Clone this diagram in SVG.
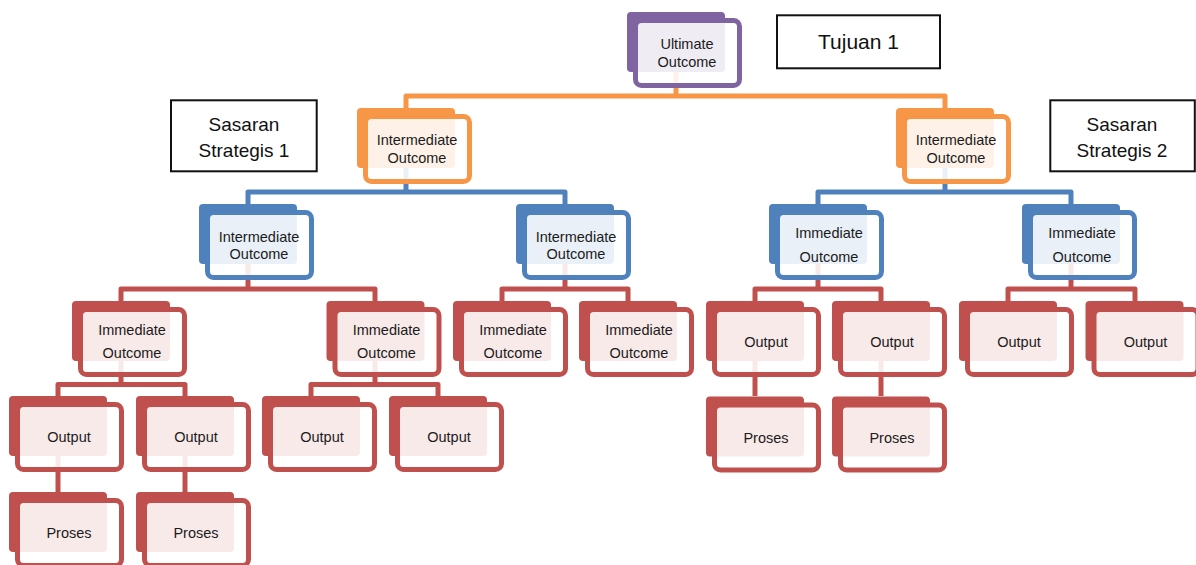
<svg xmlns="http://www.w3.org/2000/svg" width="1196" height="565" viewBox="0 0 1196 565">
<style>
.p{color:#8064A2}
.o{color:#F79646}
.b{color:#4F81BD}
.r{color:#C0504D}
.t{font-family:"Liberation Sans",Arial,sans-serif;font-size:14.5px;fill:#1b1b1b;text-anchor:middle}
.lab{font-family:"Liberation Sans",Arial,sans-serif;fill:#111;text-anchor:middle}
.box{fill:#fff;stroke:#111;stroke-width:2}
.c{fill:none;stroke-width:5;stroke-linejoin:round}
.co{stroke:#F79646}.cb{stroke:#4F81BD}.cr{stroke:#C0504D}
</style>
<defs>
<g id="shape">
<rect x="0" y="0" width="98" height="60" rx="4" fill="currentColor"/>
<rect x="8.5" y="8.5" width="104" height="65" rx="6" fill="#ffffff" fill-opacity="0.88" stroke="currentColor" stroke-width="5"/>
</g>
</defs>
<g id="connectors">
<path class="c co" d="M676,40 V96 M406,108 V96 H945 V108"/>
<path class="c cb" d="M406,136 V192 M248,204 V192 H565 V204"/>
<path class="c cb" d="M945,136 V192 M818,204 V192 H1071 V204"/>
<path class="c cr" d="M248,232 V289 M121,301 V289 H375 V301"/>
<path class="c cr" d="M565,232 V289 M502,301 V289 H628 V301"/>
<path class="c cr" d="M818,232 V289 M755,301 V289 H881 V301"/>
<path class="c cr" d="M1071,232 V289 M1008,301 V289 H1135 V301"/>
<path class="c cr" d="M121,330 V384.5 M58,396 V384.5 H185 V396"/>
<path class="c cr" d="M375,330 V384.5 M311,396 V384.5 H438 V396"/>
<path class="c cr" d="M755,330 V396"/>
<path class="c cr" d="M881,330 V396"/>
<path class="c cr" d="M58,426 V492"/>
<path class="c cr" d="M185,426 V492"/>
</g>
<g id="n-ultimate" class="p" transform="translate(627,12)"><use href="#shape"/><text class="t" x="60" y="36.5">Ultimate</text><text class="t" x="60" y="54.5">Outcome</text></g>
<g id="n-int-1" class="o" transform="translate(357,108)"><use href="#shape"/><text class="t" x="60" y="37">Intermediate</text><text class="t" x="60" y="54.5">Outcome</text></g>
<g id="n-int-2" class="o" transform="translate(896,108)"><use href="#shape"/><text class="t" x="60" y="37">Intermediate</text><text class="t" x="60" y="54.5">Outcome</text></g>
<g id="n-int-1a" class="b" transform="translate(199,204)"><use href="#shape"/><text class="t" x="60" y="37.5">Intermediate</text><text class="t" x="60" y="54.5">Outcome</text></g>
<g id="n-int-1b" class="b" transform="translate(516,204)"><use href="#shape"/><text class="t" x="60" y="37.5">Intermediate</text><text class="t" x="60" y="54.5">Outcome</text></g>
<g id="n-imm-2a" class="b" transform="translate(769,204)"><use href="#shape"/><text class="t" x="60" y="34">Immediate</text><text class="t" x="60" y="57.5">Outcome</text></g>
<g id="n-imm-2b" class="b" transform="translate(1022,204)"><use href="#shape"/><text class="t" x="60" y="34">Immediate</text><text class="t" x="60" y="57.5">Outcome</text></g>
<g id="n-imm-1" class="r" transform="translate(72,301)"><use href="#shape"/><text class="t" x="60" y="33.5">Immediate</text><text class="t" x="60" y="57">Outcome</text></g>
<g id="n-imm-2" class="r" transform="translate(326.5,301)"><use href="#shape"/><text class="t" x="60" y="33.5">Immediate</text><text class="t" x="60" y="57">Outcome</text></g>
<g id="n-imm-3" class="r" transform="translate(453,301)"><use href="#shape"/><text class="t" x="60" y="33.5">Immediate</text><text class="t" x="60" y="57">Outcome</text></g>
<g id="n-imm-4" class="r" transform="translate(579,301)"><use href="#shape"/><text class="t" x="60" y="33.5">Immediate</text><text class="t" x="60" y="57">Outcome</text></g>
<g id="n-out-5" class="r" transform="translate(706,301)"><use href="#shape"/><text class="t" x="60" y="46">Output</text></g>
<g id="n-out-6" class="r" transform="translate(832,301)"><use href="#shape"/><text class="t" x="60" y="46">Output</text></g>
<g id="n-out-7" class="r" transform="translate(959,301)"><use href="#shape"/><text class="t" x="60" y="46">Output</text></g>
<g id="n-out-8" class="r" transform="translate(1085.5,301)"><use href="#shape"/><text class="t" x="60" y="46">Output</text></g>
<g id="n-out-1" class="r" transform="translate(9,396)"><use href="#shape"/><text class="t" x="60" y="46">Output</text></g>
<g id="n-out-2" class="r" transform="translate(136,396)"><use href="#shape"/><text class="t" x="60" y="46">Output</text></g>
<g id="n-out-3" class="r" transform="translate(262,396)"><use href="#shape"/><text class="t" x="60" y="46">Output</text></g>
<g id="n-out-4" class="r" transform="translate(389,396)"><use href="#shape"/><text class="t" x="60" y="46">Output</text></g>
<g id="n-pro-5" class="r" transform="translate(706,396.5)"><use href="#shape"/><text class="t" x="60" y="46">Proses</text></g>
<g id="n-pro-6" class="r" transform="translate(832,396.5)"><use href="#shape"/><text class="t" x="60" y="46">Proses</text></g>
<g id="n-pro-1" class="r" transform="translate(9,492)"><use href="#shape"/><text class="t" x="60" y="46">Proses</text></g>
<g id="n-pro-2" class="r" transform="translate(136,492)"><use href="#shape"/><text class="t" x="60" y="46">Proses</text></g>
<g id="label-tujuan">
<rect class="box" x="777" y="15.3" width="163" height="53"/>
<text class="lab" x="858.5" y="49" font-size="21">Tujuan 1</text>
</g>
<g id="label-sasaran-1">
<rect class="box" x="171" y="100.3" width="145.7" height="71"/>
<text class="lab" x="244" y="131" font-size="19">Sasaran</text>
<text class="lab" x="244" y="157" font-size="19">Strategis 1</text>
</g>
<g id="label-sasaran-2">
<rect class="box" x="1050.3" y="100.3" width="144.5" height="71"/>
<text class="lab" x="1122" y="131" font-size="19">Sasaran</text>
<text class="lab" x="1122" y="157" font-size="19">Strategis 2</text>
</g>
</svg>
